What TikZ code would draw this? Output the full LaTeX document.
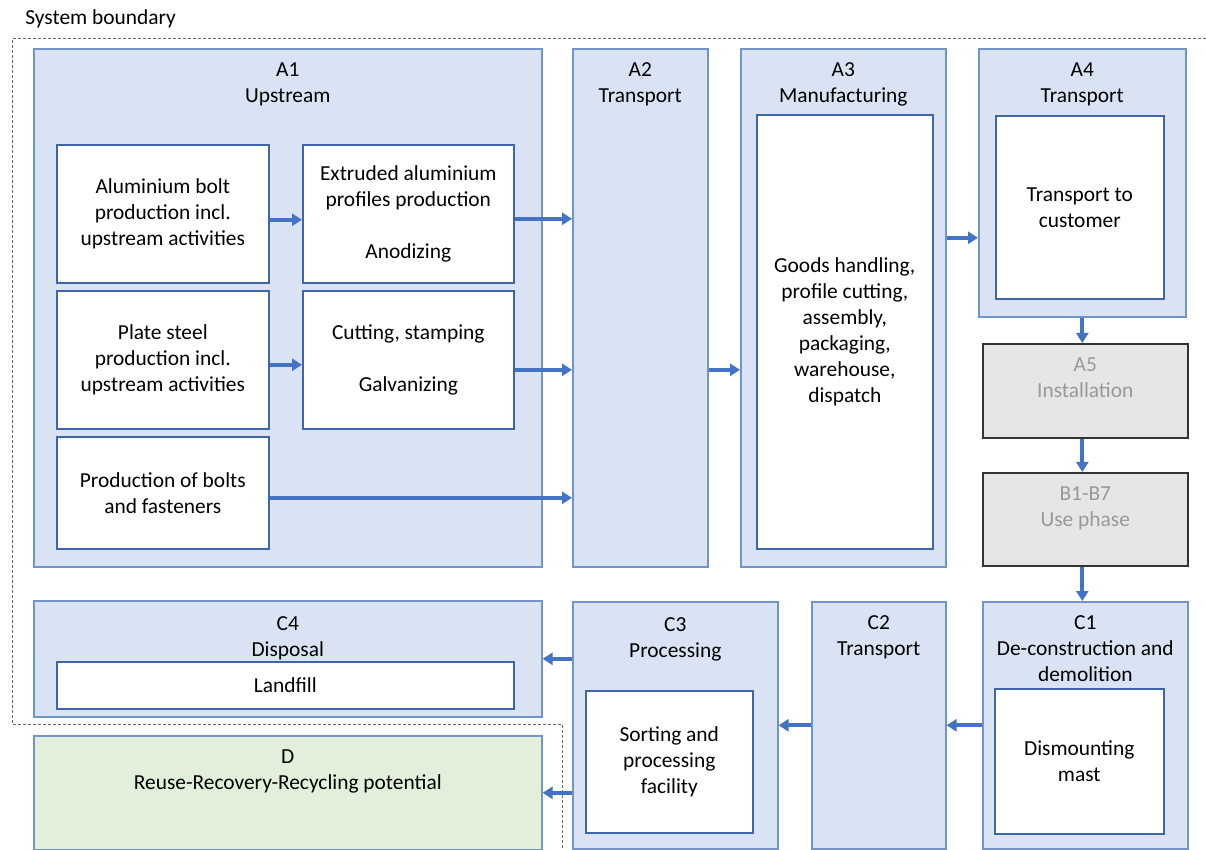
\documentclass[tikz,border=0pt]{standalone}
\usepackage{fontspec}
\setmainfont{Carlito}
\usetikzlibrary{positioning, arrows.meta}
\definecolor{stagefill}{HTML}{DAE3F3}
\definecolor{stageline}{HTML}{7293CB}
\definecolor{taskline}{HTML}{4065A8}
\definecolor{greyfill}{HTML}{E7E6E6}
\definecolor{greytext}{HTML}{999999}
\definecolor{greenfill}{HTML}{E2EFDA}
\definecolor{flowblue}{HTML}{4472C4}

\begin{document}
\begin{tikzpicture}[x=0.5pt, y=-0.5pt,
        font=\fontsize{10.7}{13}\selectfont,
        stage/.style={draw=stageline, fill=stagefill, line width=0.8pt, anchor=north west, inner sep=0pt},
        task/.style={draw=taskline, fill=white, line width=0.8pt, anchor=north west, align=center, inner sep=0pt},
        greybox/.style={stage, draw=black!80, fill=greyfill},
        title/.style={align=center, inner sep=0pt, anchor=north},
        flow/.style={draw=flowblue, line width=1.9pt, -{Triangle[length=5pt, width=6pt]}}]
    \useasboundingbox (0,0) rectangle (1206,850);

    % system boundary
    \node[inner sep=0pt, anchor=base west] (sb) at (25,25) {System boundary};
    \draw[black!60, line width=0.5pt, dash pattern=on 1.5pt off 1pt]
        (1206,39) -- (12,39) -- (12,724) -- (562,724) -- (562,850);

    % production stage
    \node[stage, minimum width=254pt, minimum height=259pt] (A1) at (33,48) {};
    \node[title, below=7pt of A1.north] (A1t) {A1\\Upstream};
    \node[task, minimum width=106pt, minimum height=69pt] (alu) at (56,144)
        {Aluminium bolt\\production incl.\\upstream activities};
    \node[task, minimum width=105.5pt, minimum height=69pt] (ext) at (302,144)
        {Extruded aluminium\\profiles production\\[13pt]Anodizing};
    \node[task, minimum width=106pt, minimum height=69pt] (plate) at (56,290)
        {Plate steel\\production incl.\\upstream activities};
    \node[task, minimum width=105.5pt, minimum height=69pt] (cut) at (302,290)
        {Cutting, stamping\\[13pt]Galvanizing};
    \node[task, minimum width=106pt, minimum height=56pt] (bolts) at (56,436)
        {Production of bolts\\and fasteners};

    \node[stage, minimum width=67.5pt, minimum height=259pt] (A2) at (572,48) {};
    \node[title, below=7pt of A2.north] (A2t) {A2\\Transport};

    \node[stage, minimum width=102.5pt, minimum height=259pt] (A3) at (740,48) {};
    \node[title, below=7pt of A3.north] (A3t) {A3\\Manufacturing};
    \node[task, minimum width=88pt, minimum height=217pt] (manu) at (756,114)
        {Goods handling,\\profile cutting,\\assembly,\\packaging,\\warehouse,\\dispatch};

    \node[stage, minimum width=103.5pt, minimum height=134pt] (A4) at (978,48) {};
    \node[title, below=7pt of A4.north] (A4t) {A4\\Transport};
    \node[task, minimum width=84pt, minimum height=91.5pt] (cust) at (995,115)
        {Transport to\\customer};

    % installation and use
    \node[greybox, minimum width=102.5pt, minimum height=47pt] (A5) at (982,343) {};
    \node[title, greytext, below=7pt of A5.north] (A5t) {A5\\Installation};
    \node[greybox, minimum width=102.5pt, minimum height=46.5pt] (B) at (982,472) {};
    \node[title, greytext, below=7pt of B.north] (Bt) {B1-B7\\Use phase};

    % end of life
    \node[stage, minimum width=102.5pt, minimum height=123.5pt] (C1) at (982,601) {};
    \node[title, below=7pt of C1.north] (C1t) {C1\\De-construction and\\demolition};
    \node[task, minimum width=84.5pt, minimum height=72.5pt] (mast) at (994,688)
        {Dismounting\\mast};

    \node[stage, minimum width=67pt, minimum height=123.5pt] (C2) at (811,601) {};
    \node[title, below=7pt of C2.north] (C2t) {C2\\Transport};

    \node[stage, minimum width=102.5pt, minimum height=123.5pt] (C3) at (572,601) {};
    \node[title, below=8pt of C3.north] (C3t) {C3\\Processing};
    \node[task, minimum width=83.5pt, minimum height=71pt] (sort) at (585,690)
        {Sorting and\\processing\\facility};

    \node[stage, minimum width=254pt, minimum height=58pt] (C4) at (33,600) {};
    \node[title, below=8pt of C4.north] (C4t) {C4\\Disposal};
    \node[task, minimum width=228.5pt, minimum height=23.5pt] (land) at (56,661) {Landfill};

    \node[stage, fill=greenfill, minimum width=254pt, minimum height=57pt] (D) at (33,735) {};
    \node[title, below=7pt of D.north] (Dt) {D\\Reuse-Recovery-Recycling potential};

    % flows
    \draw[flow] ([yshift=-3pt]alu.east) -- ([yshift=-3pt]ext.west);
    \draw[flow] ([yshift=-2.5pt]plate.east) -- ([yshift=-2.5pt]cut.west);
    \draw[flow] ([yshift=-2.5pt]ext.east) -- ([yshift=-2.5pt]ext.east -| A2.west);
    \draw[flow] ([yshift=-5pt]cut.east) -- ([yshift=-5pt]cut.east -| A2.west);
    \draw[flow] ([yshift=-2.5pt]bolts.east) -- ([yshift=-2.5pt]bolts.east -| A2.west);
    \draw[flow] ([yshift=-5pt]cut.east -| A2.east) -- ([yshift=-5pt]cut.east -| A3.west);
    \draw[flow] ([yshift=-27.5pt]A4.west -| A3.east) -- ([yshift=-27.5pt]A4.west);
    \draw[flow] (A4.south) -- (A4.south |- A5.north);
    \draw[flow] (A4.south |- A5.south) -- (A4.south |- B.north);
    \draw[flow] (A4.south |- B.south) -- (A4.south |- C1.north);
    \draw[flow] (C1.west) -- (C2.east);
    \draw[flow] (C2.west) -- (C3.east);
    \draw[flow] (C4.east -| C3.west) -- (C4.east);
    \draw[flow] (D.east -| C3.west) -- (D.east);
\end{tikzpicture}
\end{document}
